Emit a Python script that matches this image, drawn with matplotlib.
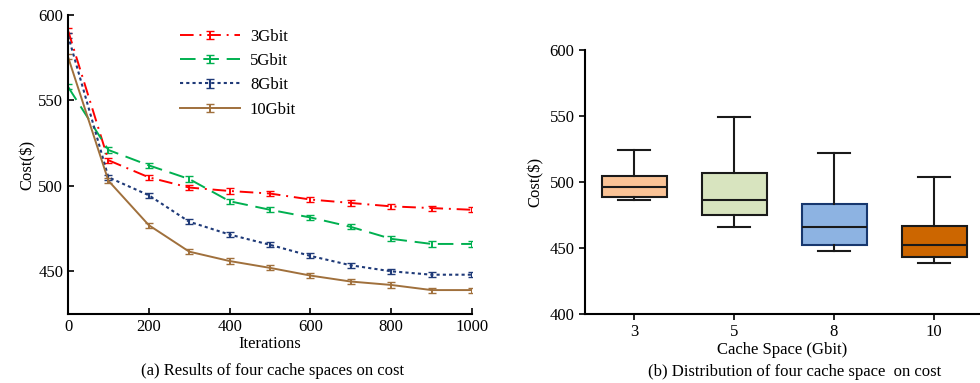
import numpy as np
import matplotlib.pyplot as plt
from matplotlib.container import ErrorbarContainer
from matplotlib.legend_handler import HandlerErrorbar

plt.rcParams['font.family'] = ['Liberation Serif', 'DejaVu Serif']
plt.rcParams['font.size'] = 12

iters = [0, 100, 200, 300, 400, 500, 600, 700, 800, 900, 1000]
cost_3g = [591, 515, 505, 499, 497, 495.5, 492, 490, 488, 487, 486]
cost_5g = [558, 521, 512, 504, 491, 486, 481.5, 476, 469, 466, 466]
cost_8g = [588, 505, 494.5, 479, 471.5, 465.5, 459, 453.5, 450, 448, 448]
cost_10g = [575.5, 503, 477, 461.5, 456, 452, 447.5, 444, 442, 439, 439]
err = 1.5

cache_labels = ['3', '5', '8', '10']
wh_hi = [524.5, 549, 522, 504]
q3 = [504.5, 507, 483, 467]
med = [496, 486, 466, 452]
q1 = [488.5, 475, 452, 443]
wh_lo = [486, 466, 448, 439]

fig = plt.figure(figsize=(9.8, 3.83), dpi=100)

####subplot a
ax1 = fig.add_axes([68/980, 1-314/383, 404/980, 299/383])
ax1.errorbar(iters, cost_3g, yerr=err, color='#FF0000', ls=(0, (7, 3, 1, 3)), lw=1.4, capsize=3, label='3Gbit')
ax1.errorbar(iters, cost_5g, yerr=err, color='#00B050', ls=(0, (8, 4)), lw=1.4, capsize=3, label='5Gbit')
ax1.errorbar(iters, cost_8g, yerr=err, color='#1F3A78', ls=(0, (1.5, 1.5)), lw=1.5, capsize=3, label='8Gbit')
ax1.errorbar(iters, cost_10g, yerr=err, color='#A0703C', ls='-', lw=1.4, capsize=3, label='10Gbit')
ax1.set_xlim(0, 1000)
ax1.set_ylim(425, 600)
ax1.set_xticks([0, 200, 400, 600, 800, 1000])
ax1.set_yticks([450, 500, 550, 600])
ax1.tick_params(direction='in', length=4, width=1.2)
for s in ['top', 'right']:
    ax1.spines[s].set_visible(False)
for s in ['left', 'bottom']:
    ax1.spines[s].set_linewidth(1.5)
ax1.set_xlabel('Iterations', labelpad=1)
ax1.set_ylabel('Cost($)', labelpad=2)
ax1.legend(frameon=False, loc='upper left', bbox_to_anchor=(0.24, 1.005), handlelength=3.6,
           labelspacing=0.5, handletextpad=0.6,
           handler_map={ErrorbarContainer: HandlerErrorbar(yerr_size=0.25)})
fig.text(273/980, 1-371/383, '(a) Results of four cache spaces on cost', ha='center', va='center')

####subplot b
ax2 = fig.add_axes([585/980, 1-314/383, 395/980, 264/383])
stats = []
for i in range(4):
    stats.append(dict(whislo=wh_lo[i], q1=q1[i], med=med[i], q3=q3[i], whishi=wh_hi[i], fliers=[]))
bp = ax2.bxp(stats, positions=[1, 2, 3, 4], widths=0.65, patch_artist=True, showfliers=False,
             medianprops=dict(color='#1a1a1a', lw=1.5),
             whiskerprops=dict(color='#1a1a1a', lw=1.5),
             capprops=dict(color='#1a1a1a', lw=1.5),
             boxprops=dict(lw=1.5))
fills = ['#FAC396', '#D8E4BF', '#8DB3E2', '#CC6600']
edges = ['#1a1a1a', '#1a1a1a', '#17376E', '#1a1a1a']
for p, f, e in zip(bp['boxes'], fills, edges):
    p.set_facecolor(f)
    p.set_edgecolor(e)
ax2.set_xlim(0.51, 4.46)
ax2.set_ylim(400, 600)
ax2.set_xticks([1, 2, 3, 4])
ax2.set_xticklabels(cache_labels)
ax2.set_yticks([400, 450, 500, 550, 600])
ax2.tick_params(direction='out', length=4, width=1.2)
for s in ['top', 'right']:
    ax2.spines[s].set_visible(False)
for s in ['left', 'bottom']:
    ax2.spines[s].set_linewidth(1.5)
ax2.set_xlabel('Cache Space (Gbit)', labelpad=1)
ax2.set_ylabel('Cost($)', labelpad=4)
fig.text(795/980, 1-372/383, '(b) Distribution of four cache space  on cost', ha='center', va='center')

fig.savefig('out.png', dpi=100)
